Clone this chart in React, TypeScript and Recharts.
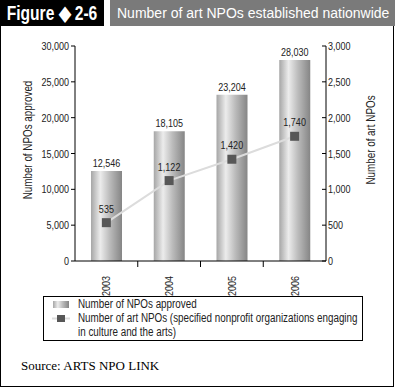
import React from 'react';
import { ComposedChart, Bar, Line, XAxis, YAxis, LabelList } from 'recharts';

const years = ['2003', '2004', '2005', '2006'];
const npoApproved = [12546, 18105, 23204, 28030];
const artNpos = [535, 1122, 1420, 1740];
const leftTicks = [0, 5000, 10000, 15000, 20000, 25000, 30000];
const rightTicks = [0, 500, 1000, 1500, 2000, 2500, 3000];

const data = years.map((y, i) => ({ year: y, approved: npoApproved[i], art: artNpos[i] }));

const FONT = '"Liberation Sans", Arial, sans-serif';
const SX = 0.82;
const fmt = (v: number) => v.toLocaleString('en-US');

const NText = ({ x, y, anchor, children, size = 11, rotate = 0, dy = 0 }: any) => (
  <g transform={`translate(${x},${y}) rotate(${rotate}) scale(${SX},1)`}>
    <text x={0} y={0} dy={dy} textAnchor={anchor} fontSize={size} fontFamily={FONT} fill="#222">
      {children}
    </text>
  </g>
);

const XTick = (props: any) => {
  const { x, y, payload, index } = props;
  const half = payload.offset || 0;
  return (
    <g>
      {index < years.length - 1 && (
        <line x1={x + half} x2={x + half} y1={y - 9} y2={y - 15} stroke="#000" strokeWidth={1} />
      )}
      <NText x={x + 4} y={y} anchor="end" rotate={-90}>
        {payload.value}
      </NText>
    </g>
  );
};

const LeftTick = (props: any) => {
  const { x, y, payload } = props;
  return (
    <NText x={x} y={y} dy={4} anchor="end">
      {fmt(payload.value)}
    </NText>
  );
};

const RightTick = (props: any) => {
  const { x, y, payload } = props;
  return (
    <g>
      <line x1={x - 2} x2={x - 6} y1={y} y2={y} stroke="#000" strokeWidth={1} />
      <NText x={x} y={y} dy={4} anchor="start">
        {fmt(payload.value)}
      </NText>
    </g>
  );
};

const TopLabel = (off: number) => (props: any) => {
  const { x, y, width, value } = props;
  return (
    <NText x={Number(x) + (Number(width) || 0) / 2} y={Number(y) - off} anchor="middle">
      {fmt(Number(value))}
    </NText>
  );
};

const SquareDot = (props: any) => {
  const { cx, cy } = props;
  return <rect x={cx - 4.5} y={cy - 4.5} width={9} height={9} fill="#575757" />;
};

const gradStops = (
  <>
    <stop offset="0%" stopColor="#a6a6a6" />
    <stop offset="30%" stopColor="#ececec" />
    <stop offset="60%" stopColor="#bcbcbc" />
    <stop offset="100%" stopColor="#858585" />
  </>
);

const narrowDiv = (extra: any) => ({
  position: 'absolute' as const,
  whiteSpace: 'nowrap' as const,
  fontFamily: FONT,
  color: '#222',
  ...extra,
});

export default function App() {
  return (
    <div style={{ position: 'absolute', left: 0, top: 0, width: 395, height: 388, background: '#fff', fontFamily: FONT }}>
      <div style={{ position: 'absolute', left: 0, top: 0, width: 104, height: 26, background: '#000' }} />
      <div style={narrowDiv({ left: 52 - 60, top: 0, width: 120, height: 26, lineHeight: '26px', textAlign: 'center', color: '#fff', fontWeight: 'bold', fontSize: 20, transform: 'scaleX(0.78)' })}>
        Figure ◆ 2-6
      </div>
      <div style={{ position: 'absolute', left: 110, top: 0, width: 285, height: 26, background: '#7a7a7a', color: '#fff', fontSize: 14, lineHeight: '26px', paddingLeft: 7, boxSizing: 'border-box', fontFamily: FONT }}>
        Number of art NPOs established nationwide
      </div>
      <div style={{ position: 'absolute', left: 0, top: 26, width: 394, height: 361, border: '1px solid #000', borderTop: 'none', boxSizing: 'border-box' }} />
      <div style={narrowDiv({ left: 28 - 100, top: 140 - 7, width: 200, height: 14, lineHeight: '14px', fontSize: 12, textAlign: 'center', transform: `rotate(-90deg) scaleX(${SX})` })}>
        Number of NPOs approved
      </div>
      <div style={narrowDiv({ left: 371 - 100, top: 140 - 7, width: 200, height: 14, lineHeight: '14px', fontSize: 12, textAlign: 'center', transform: `rotate(-90deg) scaleX(${SX})` })}>
        Number of art NPOs
      </div>
      <div style={{ position: 'absolute', left: 0, top: 0 }}>
        <ComposedChart
          width={395}
          height={388}
          data={data}
          margin={{ top: 46, left: 25, right: 9, bottom: 97 }}
        >
          <defs>
            <linearGradient id="barGrad" x1="0" x2="1" y1="0" y2="0">
              {gradStops}
            </linearGradient>
          </defs>
          <XAxis
            dataKey="year"
            xAxisId="main"
            height={30}
            stroke="#000"
            tickLine={false}
            tick={<XTick />}
            tickMargin={9}
            interval={0}
          />
          <XAxis
            xAxisId="top"
            orientation="top"
            dataKey="year"
            height={0}
            stroke="#000"
            tick={false}
            tickLine={false}
          />
          <YAxis
            yAxisId="left"
            width={50}
            domain={[0, 30000]}
            ticks={leftTicks}
            stroke="#000"
            tickSize={4}
            tickMargin={2}
            tick={<LeftTick />}
          />
          <YAxis
            yAxisId="right"
            orientation="right"
            width={60}
            domain={[0, 3000]}
            ticks={rightTicks}
            stroke="#000"
            tickSize={0}
            tickMargin={2}
            tick={<RightTick />}
          />
          <Bar
            dataKey="approved"
            xAxisId="main"
            yAxisId="left"
            barSize={31}
            fill="url(#barGrad)"
            isAnimationActive={false}
          >
            <LabelList dataKey="approved" content={TopLabel(4)} />
          </Bar>
          <Line
            dataKey="art"
            xAxisId="main"
            yAxisId="right"
            stroke="#dcdcdc"
            strokeWidth={2}
            dot={<SquareDot />}
            activeDot={false}
            isAnimationActive={false}
          >
            <LabelList dataKey="art" content={TopLabel(10)} />
          </Line>
        </ComposedChart>
      </div>
      <div style={{ position: 'absolute', left: 43, top: 296, width: 320, height: 45, border: '1px solid #000', boxSizing: 'border-box', background: '#fff' }}>
        <svg width={320} height={45} style={{ position: 'absolute', left: -1, top: -1 }}>
          <defs>
            <linearGradient id="legendGrad" x1="0" x2="1" y1="0" y2="0">
              {gradStops}
            </linearGradient>
          </defs>
          <rect x={10} y={5} width={16} height={7} fill="url(#legendGrad)" />
          <line x1={9} x2={27} y1={22.5} y2={22.5} stroke="#dcdcdc" strokeWidth={2} />
          <rect x={14} y={19} width={8} height={7} fill="#575757" />
        </svg>
        <div style={narrowDiv({ left: 34, top: 0, width: 360, fontSize: 12, lineHeight: '14px', transform: `scaleX(${SX})`, transformOrigin: 'left top' })}>
          <div>Number of NPOs approved</div>
          <div>Number of art NPOs (specified nonprofit organizations engaging</div>
          <div>in culture and the arts)</div>
        </div>
      </div>
      <div style={{ position: 'absolute', left: 21, top: 358, fontSize: 13, fontFamily: '"Liberation Serif", "Times New Roman", serif', color: '#000', whiteSpace: 'nowrap' }}>
        Source: ARTS NPO LINK
      </div>
    </div>
  );
}
